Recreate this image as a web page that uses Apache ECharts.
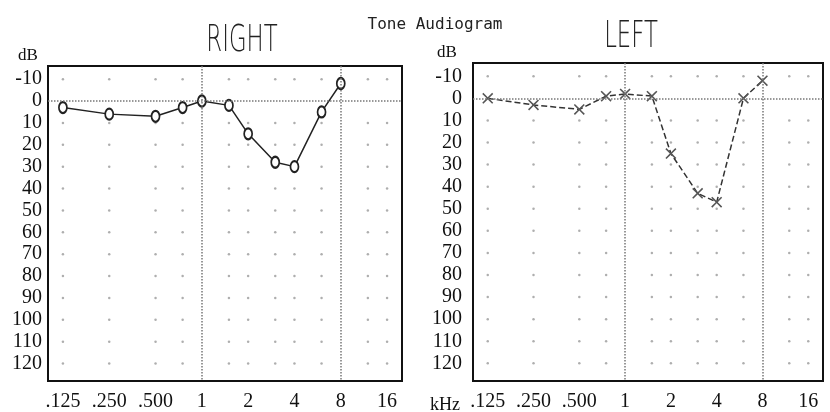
<!DOCTYPE html>
<html lang="en">
<head>
    <meta charset="UTF-8">
    <title>Tone Audiogram</title>
    <style>
        html, body { margin: 0; padding: 0; background: #fff; }
        #chart { width: 830px; height: 412px; }
    </style>
</head>
<body>
<div id="chart"></div>
<script src="https://cdn.jsdelivr.net/npm/echarts@6/dist/echarts.min.js"></script>
<script>
    // frequencies in kHz, thresholds in dB HL
    var testFreqs = [0.125, 0.25, 0.5, 0.75, 1, 1.5, 2, 3, 4, 6, 8];
    var rightEar = [3, 6, 7, 3, 0, 2, 15, 28, 30, 5, -8];
    var leftEar = [0, 3, 5, -1, -2, -1, 25, 43, 47, 0, -8];

    var freqTicks = [0.125, 0.25, 0.5, 1, 2, 4, 8, 16];
    var freqTickLabels = ['.125', '.250', '.500', '1', '2', '4', '8', '16'];

    // background dot grid of the printed form
    var dotFreqs = [0.125, 0.25, 0.5, 0.75, 1.5, 2, 3, 4, 6, 12, 16];
    var dotLevels = [-10, 10, 20, 30, 40, 50, 60, 70, 80, 90, 100, 110, 120];

    var serif = '"Liberation Serif", "DejaVu Serif", serif';

    function pairs(xs, ys) {
        var out = [];
        for (var i = 0; i < xs.length; i++) {
            out.push([xs[i], ys[i]]);
        }
        return out;
    }

    function dotGrid() {
        var out = [];
        for (var i = 0; i < dotFreqs.length; i++) {
            for (var j = 0; j < dotLevels.length; j++) {
                out.push([dotFreqs[i], dotLevels[j]]);
            }
        }
        return out;
    }

    function freqLabel(v) {
        for (var i = 0; i < freqTicks.length; i++) {
            if (Math.abs(v - freqTicks[i]) < 1e-6) return freqTickLabels[i];
        }
        return '';
    }

    function makeX(idx) {
        return {
            type: 'log',
            logBase: 2,
            gridIndex: idx,
            min: 0.1,
            max: 20,
            axisLine: { show: false },
            axisTick: { show: false },
            splitLine: { show: false },
            axisLabel: {
                margin: 11,
                color: '#111',
                fontFamily: serif,
                fontSize: 20,
                showMinLabel: false,
                showMaxLabel: false,
                formatter: freqLabel
            }
        };
    }

    function makeY(idx, margin) {
        return {
            type: 'value',
            gridIndex: idx,
            inverse: true,
            min: -16,
            max: 128,
            interval: 2,
            axisLine: { show: false },
            axisTick: { show: false },
            splitLine: { show: false },
            axisLabel: {
                margin: margin,
                color: '#111',
                fontFamily: serif,
                fontSize: 20,
                formatter: function (v) {
                    return (v % 10 === 0 && v >= -10 && v <= 120) ? String(v) : '';
                }
            }
        };
    }

    function makeDots(idx) {
        return {
            type: 'scatter',
            xAxisIndex: idx,
            yAxisIndex: idx,
            data: dotGrid(),
            symbol: 'circle',
            symbolSize: 2.5,
            silent: true,
            itemStyle: { color: '#9a9a9a' },
            markLine: {
                silent: true,
                symbol: 'none',
                label: { show: false },
                lineStyle: { type: 'dotted', color: '#777', width: 1.5 },
                data: [{ yAxis: 0 }, { xAxis: 1 }, { xAxis: 8 }]
            }
        };
    }

    var crossPath = 'path://M0,1 L1,0 L5,4 L9,0 L10,1 L6,5 L10,9 L9,10 L5,6 L1,10 L0,9 L4,5 Z';

    var myChart = echarts.init(document.getElementById('chart'));
    var option = {
        backgroundColor: '#fff',
        animation: false,
        grid: [
            { left: 48, top: 66, width: 354, height: 321, show: true, borderColor: '#111', borderWidth: 2, backgroundColor: 'transparent' },
            { left: 473, top: 63, width: 350, height: 322, show: true, borderColor: '#111', borderWidth: 2, backgroundColor: 'transparent' }
        ],
        xAxis: [makeX(0), makeX(1)],
        yAxis: [makeY(0, 6), makeY(1, 11)],
        graphic: [
            { type: 'text', x: 435, y: 25, style: { text: 'Tone Audiogram', font: '16px "DejaVu Sans Mono", monospace', fill: '#222', textAlign: 'center', textVerticalAlign: 'middle' } },
            { type: 'text', x: 242, y: 41, scaleX: 0.6, style: { text: 'RIGHT', font: '200 38px "DejaVu Sans", sans-serif', fill: '#222', textAlign: 'center', textVerticalAlign: 'middle' } },
            { type: 'text', x: 631, y: 37, scaleX: 0.6, style: { text: 'LEFT', font: '200 38px "DejaVu Sans", sans-serif', fill: '#222', textAlign: 'center', textVerticalAlign: 'middle' } },
            { type: 'text', x: 28, y: 56, style: { text: 'dB', font: '17px ' + serif, fill: '#111', textAlign: 'center', textVerticalAlign: 'middle' } },
            { type: 'text', x: 447, y: 53, style: { text: 'dB', font: '17px ' + serif, fill: '#111', textAlign: 'center', textVerticalAlign: 'middle' } },
            { type: 'text', x: 445, y: 405, style: { text: 'kHz', font: '18px ' + serif, fill: '#111', textAlign: 'center', textVerticalAlign: 'middle' } }
        ],
        series: [
            makeDots(0),
            makeDots(1),
            {
                type: 'line',
                xAxisIndex: 0,
                yAxisIndex: 0,
                data: pairs(testFreqs, rightEar),
                symbol: 'emptyCircle',
                symbolSize: [8, 11],
                lineStyle: { color: '#222', width: 1.5 },
                itemStyle: { color: '#222', borderWidth: 1.5 }
            },
            {
                type: 'line',
                xAxisIndex: 1,
                yAxisIndex: 1,
                data: pairs(testFreqs, leftEar),
                symbol: crossPath,
                symbolSize: 11,
                lineStyle: { color: '#333', width: 1.5, type: [6, 3] },
                itemStyle: { color: '#555' }
            }
        ]
    };
    myChart.setOption(option);
</script>
</body>
</html>
